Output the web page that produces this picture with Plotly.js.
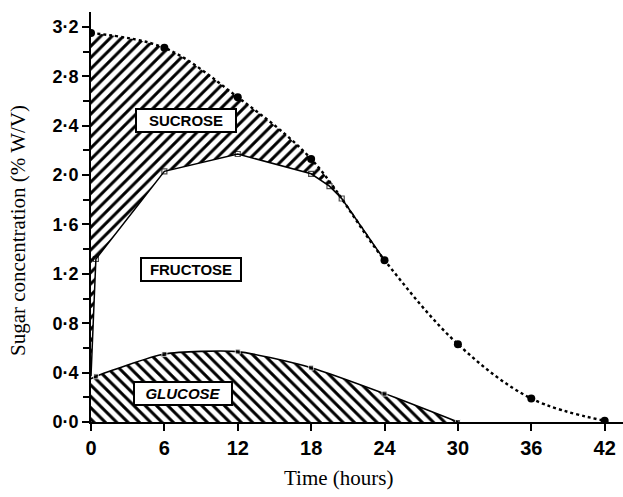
<!DOCTYPE html>
<html>
<head>
<meta charset="utf-8">
<script src="https://cdn.plot.ly/plotly-3.0.1.min.js"></script>
<style>html,body{margin:0;padding:0;background:#fff;}#chart{width:623px;height:497px;}</style>
</head>
<body>
<div id="chart"></div>
<script>
// Total sugar (sucrose + fructose + glucose) – filled circles, dotted
const totalTime = [0, 6, 12, 18, 24, 30, 36, 42];
const totalConc = [3.15, 3.03, 2.63, 2.13, 1.31, 0.63, 0.19, 0.01];
// Glucose + fructose – open squares
const fructTime = [0, 0.4, 6, 12, 18, 19.5, 20.5, 24];
const fructConc = [0.37, 1.32, 2.03, 2.17, 2.01, 1.91, 1.81, 1.31];
// Glucose – small filled squares
const glucTime = [0, 0.4, 6, 12, 18, 24, 30];
const glucConc = [0.35, 0.37, 0.55, 0.57, 0.44, 0.23, 0.0];
// Sucrose band upper edge (used for hatch)
const sucFillTime = [0, 6, 12, 18, 24];
const sucFillConc = [3.15, 3.03, 2.63, 2.13, 1.31];

const yTickVals = [0, 0.4, 0.8, 1.2, 1.6, 2.0, 2.4, 2.8, 3.2];
const yTickText = ['0·0', '0·4', '0·8', '1·2', '1·6', '2·0', '2·4', '2·8', '3·2'];
const xTickVals = [0, 6, 12, 18, 24, 30, 36, 42];

const traces = [
  {
    x: glucTime, y: glucConc, type: 'scatter', mode: 'lines+markers',
    line: {color: 'black', width: 1.6, shape: 'spline', smoothing: 0.6},
    marker: {symbol: 'square', size: glucTime.map((t, i) => i === 0 ? 0 : 5), color: 'black'},
    fill: 'tozeroy', fillcolor: 'white',
    fillpattern: {shape: '\\', fgcolor: 'black', bgcolor: 'white', size: 8, solidity: 0.38},
    hoverinfo: 'skip', showlegend: false
  },
  {
    x: fructTime, y: fructConc, type: 'scatter', mode: 'lines+markers',
    line: {color: 'black', width: 1.5},
    marker: {symbol: 'square-open', size: fructTime.map((t, i) => (i === 0 || i === fructTime.length - 1) ? 0 : 5), color: 'black', line: {width: 1.2}},
    hoverinfo: 'skip', showlegend: false
  },
  {
    x: sucFillTime, y: sucFillConc, type: 'scatter', mode: 'lines',
    line: {color: 'rgba(0,0,0,0)', width: 0, shape: 'spline', smoothing: 1},
    fill: 'tonexty', fillcolor: 'white',
    fillpattern: {shape: '/', fgcolor: 'black', bgcolor: 'white', size: 8, solidity: 0.38},
    hoverinfo: 'skip', showlegend: false
  },
  {
    x: totalTime, y: totalConc, type: 'scatter', mode: 'lines+markers',
    line: {color: 'black', width: 2.4, dash: 'dot', shape: 'spline', smoothing: 1},
    marker: {symbol: 'circle', size: 8, color: 'black'},
    hoverinfo: 'skip', showlegend: false
  }
];

const boxFont = {family: 'Liberation Sans, Arial, sans-serif', size: 15, color: 'black'};
const serif = {family: 'Liberation Serif, Times New Roman, serif', size: 21, color: 'black'};
const layout = {
  width: 623, height: 497,
  margin: {l: 91, r: 0, t: 12, b: 75},
  paper_bgcolor: 'white', plot_bgcolor: 'white',
  showlegend: false,
  xaxis: {
    range: [0, 43.5], showgrid: false, zeroline: false,
    showline: true, linecolor: 'black', linewidth: 2,
    tickmode: 'array', tickvals: xTickVals, ticks: 'outside', ticklen: 7, tickwidth: 2, tickcolor: 'black',
    tickfont: {family: 'Liberation Sans, Arial, sans-serif', size: 20, color: 'black', weight: 'bold'}
  },
  yaxis: {
    range: [0, 3.32], showgrid: false, zeroline: false,
    showline: true, linecolor: 'black', linewidth: 2,
    tickmode: 'array', tickvals: yTickVals, ticktext: yTickText,
    ticks: 'outside', ticklen: 7, tickwidth: 2, tickcolor: 'black',
    minor: {dtick: 0.2, tick0: 0, ticks: 'outside', ticklen: 6, tickwidth: 2, tickcolor: 'black'},
    tickfont: {family: 'Liberation Sans, Arial, sans-serif', size: 18, color: 'black', weight: 'bold'}
  },
  annotations: [
    {x: 7.8, y: 2.44, xref: 'x', yref: 'y', text: '<b>SUCROSE</b>', showarrow: false,
     font: boxFont, bgcolor: 'white', bordercolor: 'black', borderwidth: 2, borderpad: 2, width: 94, height: 17},
    {x: 8.2, y: 1.237, xref: 'x', yref: 'y', text: '<b>FRUCTOSE</b>', showarrow: false,
     font: boxFont, bgcolor: 'white', bordercolor: 'black', borderwidth: 2, borderpad: 2, width: 94, height: 17},
    {x: 7.56, y: 0.227, xref: 'x', yref: 'y', text: '<b><i>GLUCOSE</i></b>', showarrow: false,
     font: boxFont, bgcolor: 'white', bordercolor: 'black', borderwidth: 2, borderpad: 2, width: 92, height: 17},
    {x: 0, y: 0, xref: 'paper', yref: 'paper', xanchor: 'center', yanchor: 'middle',
     text: 'Time (hours)', showarrow: false, font: serif},
    {x: 0, y: 0, xref: 'paper', yref: 'paper', xanchor: 'center', yanchor: 'middle',
     text: 'Sugar concentration (% W/V)', showarrow: false, textangle: -90, font: serif}
  ]
};

// convert pixel positions of the two axis titles to paper coordinates
const pw = 623 - 91, ph = 497 - 12 - 75;
layout.annotations[3].x = (338 - 91) / pw; layout.annotations[3].y = (497 - 75 - 478) / ph;
layout.annotations[4].x = (18 - 91) / pw; layout.annotations[4].y = (497 - 75 - 231) / ph;

Plotly.newPlot('chart', traces, layout, {staticPlot: true, displayModeBar: false});
</script>
</body>
</html>
